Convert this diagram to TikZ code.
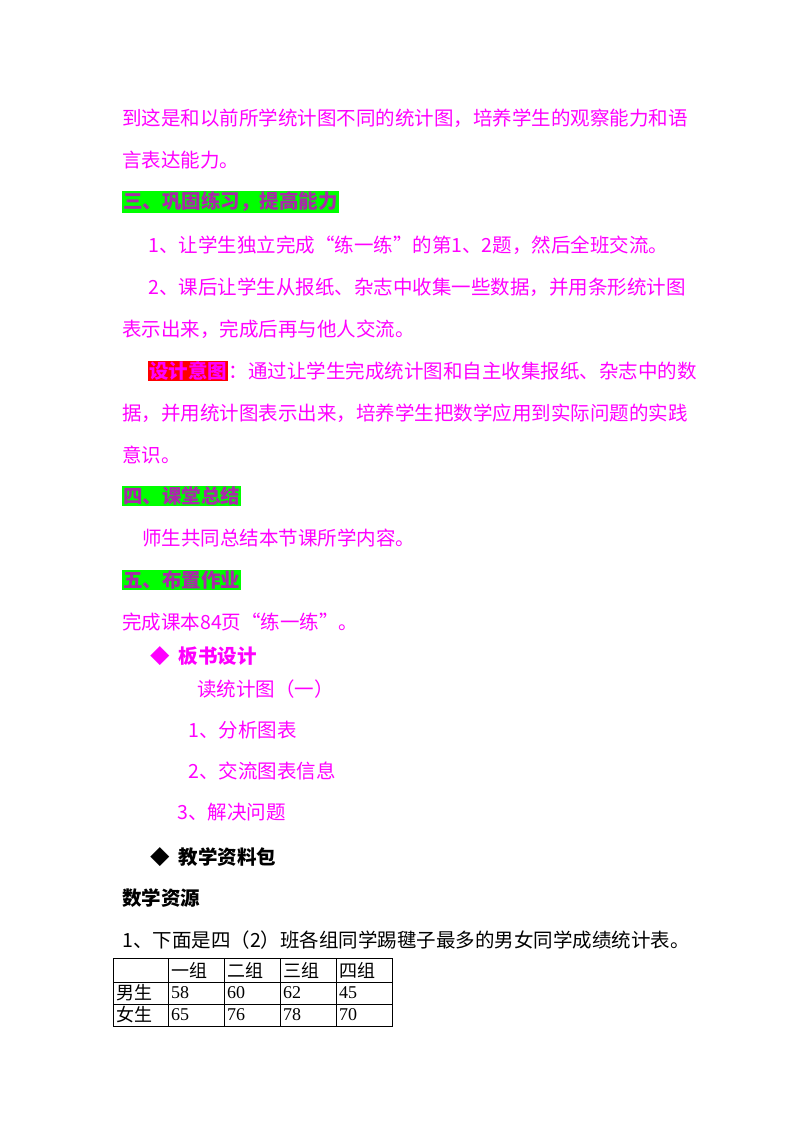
\documentclass[tikz,border=0pt]{standalone}
\usepackage{fontspec}
\setmainfont{Noto Sans CJK SC}
\newfontfamily\numf{Liberation Serif}
\definecolor{mag}{RGB}{255,0,255}
\definecolor{hgreen}{RGB}{0,255,0}
\definecolor{hred}{RGB}{255,0,0}
\begin{document}
\begin{tikzpicture}[x=1pt,y=-1pt,
  t/.style={anchor=west,inner sep=0pt,text=mag,font=\fontsize{19.5}{22}\selectfont},
  hd/.style={anchor=west,inner sep=1pt,fill=hgreen,text={rgb,255:red,170;green,40;blue,170},font=\fontsize{19.5}{22}\selectfont\bfseries},
  bk/.style={anchor=west,inner sep=0pt,text=black,font=\fontsize{19.5}{22}\selectfont},
  cell/.style={anchor=west,inner sep=0pt,font=\fontsize{18}{20}\selectfont}]
\useasboundingbox (0,0) rectangle (800,1132);
\node[t] (l1) at (122,118) {到这是和以前所学统计图不同的统计图，培养学生的观察能力和语};
\node[t] (l2) at (122,160) {言表达能力。};
\node[hd] (h3) at (122,202) {三、巩固练习，提高能力};
\node[t] (a1) at (148,245) {1、让学生独立完成“练一练”的第1、2题，然后全班交流。};
\node[t] (a2) at (148,287) {2、课后让学生从报纸、杂志中收集一些数据，并用条形统计图};
\node[t] (a3) at (122,329) {表示出来，完成后再与他人交流。};
\node[anchor=west,inner sep=1pt,fill=hred,text=mag,font=\fontsize{19.5}{22}\selectfont\bfseries] (dy) at (148,371) {设计意图};
\node[t,anchor=west] (d1) at (dy.east) {：通过让学生完成统计图和自主收集报纸、杂志中的数};
\node[t] (d2) at (122,413) {据，并用统计图表示出来，培养学生把数学应用到实际问题的实践};
\node[t] (d3) at (122,455) {意识。};
\node[hd] (h4) at (122,496) {四、课堂总结};
\node[t] (s1) at (142,538) {师生共同总结本节课所学内容。};
\node[hd] (h5) at (122,580) {五、布置作业};
\node[t] (w1) at (122,622) {完成课本84页“练一练”。};
\node[t,font=\fontsize{19.5}{22}\selectfont\bfseries] (b0) at (150,656) {◆\ \ 板书设计};
\node[t] (b1) at (197,689) {读统计图（一）};
\node[t] (b2) at (188,730) {1、分析图表};
\node[t] (b3) at (188,771) {2、交流图表信息};
\node[t] (b4) at (177,812) {3、解决问题};
\node[bk,font=\fontsize{19.5}{22}\selectfont\bfseries] (m0) at (150,857) {◆\ \ 教学资料包};
\node[bk,font=\fontsize{19.5}{22}\selectfont\bfseries] (m1) at (122,898) {数学资源};
\node[bk] (m2) at (122,940) {1、下面是四（2）班各组同学踢毽子最多的男女同学成绩统计表。};
\draw[line width=0.8pt] (113,958) rectangle (392,1026);
\foreach \y in {982,1004} \draw[line width=0.8pt] (113,\y) -- (392,\y);
\foreach \x in {168,224,280,336} \draw[line width=0.8pt] (\x,958) -- (\x,1026);
\node[cell] (c01) at (171,970) {一组};
\node[cell] (c02) at (227,970) {二组};
\node[cell] (c03) at (283,970) {三组};
\node[cell] (c04) at (339,970) {四组};
\node[cell] (r1) at (116,993) {男生};
\node[cell] (r2) at (116,1015) {女生};
\node[cell,font=\fontsize{18}{20}\selectfont\numf] (v11) at (171,993) {58};
\node[cell,font=\fontsize{18}{20}\selectfont\numf] (v12) at (227,993) {60};
\node[cell,font=\fontsize{18}{20}\selectfont\numf] (v13) at (283,993) {62};
\node[cell,font=\fontsize{18}{20}\selectfont\numf] (v14) at (339,993) {45};
\node[cell,font=\fontsize{18}{20}\selectfont\numf] (v21) at (171,1015) {65};
\node[cell,font=\fontsize{18}{20}\selectfont\numf] (v22) at (227,1015) {76};
\node[cell,font=\fontsize{18}{20}\selectfont\numf] (v23) at (283,1015) {78};
\node[cell,font=\fontsize{18}{20}\selectfont\numf] (v24) at (339,1015) {70};
\end{tikzpicture}
\end{document}
